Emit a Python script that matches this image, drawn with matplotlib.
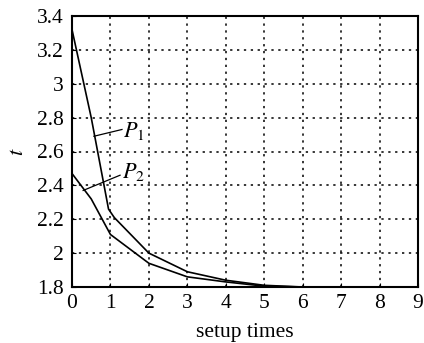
import matplotlib
matplotlib.use("Agg")
import matplotlib.pyplot as plt

p1_x = [0, 0.5, 0.95, 1.1, 2, 3, 4, 5, 6, 7, 8, 9]
p1_y = [3.32, 2.80, 2.26, 2.21, 2.0, 1.89, 1.84, 1.81, 1.80, 1.80, 1.80, 1.80]
p2_x = [0, 0.5, 1, 2, 3, 4, 5, 6, 7, 8, 9]
p2_y = [2.47, 2.32, 2.11, 1.94, 1.86, 1.83, 1.805, 1.80, 1.80, 1.80, 1.80]
xticks = list(range(10))
yticks = [1.8, 2.0, 2.2, 2.4, 2.6, 2.8, 3.0, 3.2, 3.4]
yticklabels = ["1.8", "2", "2.2", "2.4", "2.6", "2.8", "3", "3.2", "3.4"]

plt.rcParams['font.family'] = ['Liberation Serif', 'DejaVu Serif']
plt.rcParams['mathtext.fontset'] = 'stix'

fig = plt.figure(figsize=(4.24, 3.43), dpi=100)
ax = fig.add_axes([72/424, 1-287/343, (418-72)/424, (287-16)/343])

ax.plot(p1_x, p1_y, color='black', lw=1.2)
ax.plot(p2_x, p2_y, color='black', lw=1.2)

ax.set_xlim(0, 9)
ax.set_ylim(1.8, 3.4)
ax.set_xticks(xticks)
ax.set_yticks(yticks)
ax.set_yticklabels(yticklabels)
ax.tick_params(direction='in', labelsize=15.5, length=3, color='black')
ax.tick_params(axis='x', pad=5)
ax.tick_params(axis='y', pad=6)
ax.grid(True, linestyle=(0, (1.5, 3)), color='black', lw=1.1)
for s in ax.spines.values():
    s.set_linewidth(1.5)

ax.plot([0.57, 1.3], [2.69, 2.73], color='black', lw=0.9)
ax.plot([0.29, 1.25], [2.37, 2.46], color='black', lw=0.9)
ax.text(1.33, 2.72, r'$P_1$', fontsize=16, va='center', ha='left')
ax.text(1.3, 2.48, r'$P_2$', fontsize=16, va='center', ha='left')

ax.set_xlabel('setup times', fontsize=15.5, labelpad=7)
ax.set_ylabel(r'$t$', fontsize=16, labelpad=6)

fig.savefig('out.png', dpi=100)
